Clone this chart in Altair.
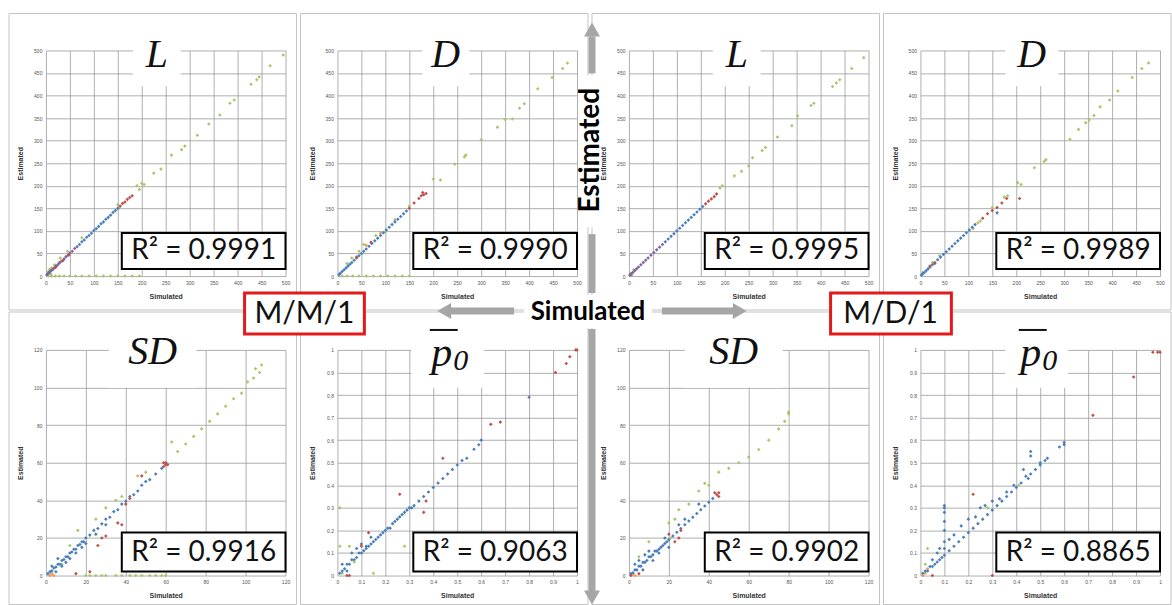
import altair as alt
import pandas as pd

# ---------------- tick values ----------------
TICKS_500 = [0, 50, 100, 150, 200, 250, 300, 350, 400, 450, 500]
TICKS_120 = [0, 20, 40, 60, 80, 100, 120]
TICKS_1 = [0, 0.1, 0.2, 0.3, 0.4, 0.5, 0.6, 0.7, 0.8, 0.9, 1]

PANEL_TITLES = ["L", "D", "L", "D", "SD", "p", "SD", "p"]
R2_TEXT = ["R² = 0.9991", "R² = 0.9990", "R² = 0.9995", "R² = 0.9989",
           "R² = 0.9916", "R² = 0.9063", "R² = 0.9902", "R² = 0.8865"]

# ---------------- panel 1 : L, M/M/1 ----------------
P1_green = [(5, 0), (12, 0), (20, 0), (28, 0), (38, 0), (50, 0), (62, 0), (75, 0), (90, 0), (105, 0),
            (120, 0), (135, 0), (150, 0), (165, 0), (180, 0), (195, 0),
            (5, 10), (8, 15), (12, 18), (18, 25), (10, 4), (30, 40), (45, 55), (75, 85),
            (150, 158), (152, 150), (190, 200), (195, 192), (200, 205), (205, 203), (225, 228), (240, 237),
            (262, 268), (283, 280), (290, 288), (316, 312), (340, 337), (363, 357), (384, 383), (393, 390),
            (428, 425), (440, 435), (445, 441), (468, 466), (495, 490)]
P1_purple = [(2, 3), (4, 5), (6, 7), (8, 9), (10, 11), (12, 13), (15, 15), (18, 19), (21, 22), (24, 24),
             (27, 28), (30, 31), (34, 34), (38, 38), (42, 43), (46, 46), (50, 51), (55, 55), (60, 61), (65, 65)]
P1_blue = [(70, 70), (75, 76), (80, 80), (85, 86), (90, 90), (95, 95), (100, 101), (105, 105), (110, 110),
           (115, 116), (120, 120), (125, 126), (130, 130), (135, 135), (140, 141), (145, 145), (150, 150)]
P1_red = [(20, 19), (35, 34), (48, 47), (155, 155), (160, 161), (165, 164), (170, 170), (175, 174), (180, 178)]

# ---------------- panel 2 : D, M/M/1 ----------------
P2_green = [(10, 0), (20, 0), (32, 0), (45, 0), (60, 0), (75, 0), (90, 0), (105, 0), (120, 0), (135, 0), (150, 0),
            (20, 28), (30, 40), (45, 55), (55, 70), (80, 90), (100, 98), (120, 125), (150, 155),
            (200, 215), (215, 213), (245, 248), (265, 264), (268, 268), (300, 302), (334, 330), (350, 347),
            (365, 348), (380, 372), (390, 382), (418, 415), (448, 440), (470, 460), (480, 472)]
P2_blue = [(3, 3), (6, 6), (10, 10), (14, 14), (18, 18), (22, 22), (26, 26), (30, 30), (35, 35), (40, 40),
           (45, 45), (50, 50), (55, 55), (60, 60), (66, 66), (72, 72), (78, 78), (84, 84), (90, 90), (96, 96),
           (102, 102), (108, 108), (114, 114), (120, 120), (126, 126), (132, 132), (138, 138), (144, 144)]
P2_red = [(40, 42), (70, 75), (150, 150), (160, 162), (170, 172), (175, 178), (180, 180), (185, 183), (178, 185)]
P2_orange = [(60, 68), (90, 95)]

# ---------------- panel 3 : L, M/D/1 ----------------
P3_green = [(3, 6), (6, 2), (10, 14), (190, 195), (195, 200), (220, 222), (235, 232), (250, 244), (258, 262),
            (278, 278), (285, 285), (310, 308), (340, 333), (352, 355), (380, 378), (386, 383), (425, 420),
            (433, 428), (440, 435), (465, 460), (490, 484)]
P3_purple = [(2, 2), (5, 5), (8, 8), (12, 12), (16, 16), (20, 20), (25, 25), (30, 30), (35, 35), (40, 40),
             (46, 46), (52, 52), (58, 58), (64, 64), (70, 70)]
P3_blue = [(76, 76), (82, 82), (88, 88), (94, 94), (100, 100), (106, 106), (112, 112), (118, 118), (124, 124),
           (130, 130), (136, 136), (142, 142), (148, 148), (154, 154)]
P3_red = [(160, 160), (166, 166), (172, 171), (178, 176), (183, 182)]

# ---------------- panel 4 : D, M/D/1 ----------------
P4_green = [(5, 8), (25, 30), (40, 45), (110, 105), (120, 118), (125, 122), (150, 152), (175, 175), (182, 178),
            (203, 207), (210, 203), (238, 240), (258, 254), (262, 258), (312, 303), (330, 325), (345, 340),
            (352, 346), (362, 356), (375, 375), (395, 390), (412, 410), (442, 440), (462, 460), (476, 472)]
P4_blue = [(2, 2), (5, 5), (8, 8), (12, 12), (16, 16), (20, 20), (25, 25), (30, 30), (36, 36), (42, 42),
           (48, 48), (54, 54), (60, 60), (66, 66), (72, 72), (78, 78), (84, 84), (90, 90), (96, 96), (102, 102),
           (108, 108), (114, 114), (160, 140)]
P4_red = [(20, 22), (30, 28), (130, 128), (140, 138), (150, 145), (160, 152), (170, 162), (180, 172), (207, 172)]

# ---------------- panel 5 : SD, M/M/1 ----------------
P5_green = [(20, 0), (22, 0), (25, 0), (28, 0), (30, 0), (35, 0), (38, 0), (42, 0), (45, 0), (48, 0), (52, 0),
            (55, 0), (58, 0), (60, 0),
            (8, 6), (12, 16), (16, 24), (25, 30), (30, 36), (35, 40), (38, 42), (46, 53), (50, 55), (63, 71),
            (66, 66), (70, 70), (74, 74), (78, 78), (82, 82), (86, 86), (90, 90), (94, 94), (98, 97), (101, 103),
            (104, 105), (105, 110), (107, 108), (108, 112)]
P5_orange = [(2, 0), (4, 0), (3, 1)]
P5_blue = [(1, 1), (2, 2), (3, 2.5), (4, 4), (5, 4.5), (6, 6), (7, 6), (8, 8), (9, 8.5), (10, 10), (11, 10),
           (12, 12), (13, 12.5), (14, 14), (15, 14), (16, 16), (17, 16.5), (18, 18), (19, 18), (20, 20),
           (22, 21.5), (24, 24), (26, 25), (28, 27.5), (30, 30), (32, 31), (34, 34), (36, 35), (38, 38),
           (40, 39.5), (42, 42), (44, 43), (46, 45), (48, 48), (50, 50), (52, 51), (55, 54), (58, 57),
           (5, 2), (8, 5), (10, 7), (12, 9), (15, 12), (3, 5), (6, 9), (18, 15), (20, 17), (25, 22), (30, 27)]
P5_red = [(59, 58), (60, 59), (60, 60), (61, 59), (59, 60), (36, 28), (38, 27), (40, 38), (42, 41), (26, 16),
          (28, 20), (30, 21), (48, 53), (15, 1), (22, 2)]

# ---------------- panel 6 : p0, M/M/1 ----------------
P6_green = [(0.01, 0.3), (0.01, 0.13), (0.05, 0.13), (0.07, 0.06), (0.02, 0.01), (0.28, 0.13), (0.15, 0.01)]
P6_blue = [(0.01, 0.01), (0.02, 0.02), (0.03, 0.03), (0.04, 0.05), (0.05, 0.05), (0.06, 0.07), (0.07, 0.07),
           (0.08, 0.08), (0.09, 0.1), (0.1, 0.1), (0.11, 0.11), (0.12, 0.12), (0.13, 0.13), (0.14, 0.14),
           (0.15, 0.15), (0.16, 0.16), (0.17, 0.17), (0.18, 0.18), (0.19, 0.19), (0.2, 0.2), (0.21, 0.21),
           (0.22, 0.21), (0.23, 0.23), (0.24, 0.24), (0.25, 0.25), (0.26, 0.26), (0.27, 0.27), (0.28, 0.28),
           (0.29, 0.29), (0.3, 0.3), (0.31, 0.3), (0.32, 0.31), (0.34, 0.33), (0.36, 0.35), (0.38, 0.37),
           (0.4, 0.39), (0.42, 0.41), (0.44, 0.43), (0.46, 0.45), (0.48, 0.47), (0.5, 0.49), (0.52, 0.51),
           (0.54, 0.52), (0.57, 0.56), (0.59, 0.58), (0.6, 0.6),
           (0.06, 0.1), (0.08, 0.12), (0.1, 0.14), (0.12, 0.13), (0.14, 0.17), (0.02, 0.05), (0.04, 0.02)]
P6_red = [(0.1, 0.13), (0.13, 0.19), (0.26, 0.36), (0.37, 0.33), (0.36, 0.28), (0.44, 0.52), (0.64, 0.67),
          (0.68, 0.68), (0.91, 0.9), (0.955, 0.94), (0.97, 0.97), (0.995, 1), (1, 1), (0.04, 0), (0.05, 0)]
P6_purple = [(0.8, 0.79)]

# ---------------- panel 7 : SD, M/D/1 ----------------
P7_green = [(10, 18), (5, 10), (20, 28), (23, 30), (25, 35), (30, 38), (35, 45), (38, 49), (40, 48), (45, 55),
            (50, 57), (55, 60), (60, 63), (65, 67), (70, 72), (75, 78), (78, 82), (80, 86), (80, 87), (21, 20)]
P7_orange = [(3, 0), (2, 1)]
P7_blue = [(1, 1), (2, 1.5), (3, 3), (4, 3), (5, 5), (6, 5), (7, 7), (8, 7), (9, 8), (10, 10), (11, 10),
           (12, 11), (13, 13), (14, 13), (15, 14), (16, 15), (17, 16), (18, 17), (19, 18), (20, 19), (22, 21),
           (24, 23), (26, 25), (28, 27), (30, 29), (32, 31), (34, 33), (36, 35), (38, 37), (40, 39), (42, 41),
           (5, 8), (7, 3), (10, 13), (12, 8), (15, 12), (18, 20), (20, 15), (25, 27), (28, 30), (35, 38),
           (3, 6), (8, 11)]
P7_red = [(44, 43), (45, 44), (45, 42), (43, 44), (20, 22), (23, 18), (25, 20), (26, 24), (5, 1), (1, 0)]

# ---------------- panel 8 : p0, M/D/1 ----------------
P8_green = [(0.03, 0.12), (0.02, 0.05), (0.28, 0.3), (0.41, 0.4)]
P8_orange = [(0.01, 0), (0.02, 0.01), (0.03, 0.03)]
P8_blue = [(0.01, 0.01), (0.02, 0.02), (0.03, 0.02), (0.04, 0.04), (0.05, 0.04), (0.06, 0.05), (0.07, 0.06),
           (0.08, 0.07), (0.09, 0.08), (0.1, 0.09), (0.12, 0.11), (0.14, 0.13), (0.16, 0.15), (0.18, 0.17),
           (0.2, 0.19), (0.22, 0.21), (0.24, 0.23), (0.26, 0.25), (0.28, 0.27), (0.3, 0.29), (0.32, 0.31),
           (0.34, 0.33), (0.36, 0.35), (0.38, 0.37), (0.4, 0.39), (0.42, 0.41), (0.44, 0.44), (0.46, 0.45),
           (0.48, 0.47), (0.5, 0.49), (0.52, 0.51), (0.53, 0.52), (0.58, 0.57), (0.6, 0.59), (0.6, 0.58),
           (0.1, 0.12), (0.1, 0.15), (0.1, 0.2), (0.1, 0.24), (0.1, 0.28), (0.1, 0.3), (0.1, 0.31),
           (0.05, 0.07), (0.07, 0.1), (0.08, 0.12), (0.12, 0.16), (0.14, 0.18), (0.17, 0.22), (0.2, 0.25),
           (0.23, 0.26), (0.25, 0.3), (0.27, 0.31), (0.3, 0.33), (0.33, 0.34), (0.36, 0.37), (0.39, 0.4),
           (0.43, 0.47), (0.45, 0.43), (0.46, 0.53), (0.46, 0.55), (0.5, 0.5)]
P8_red = [(0.22, 0.36), (0.72, 0.71), (0.89, 0.88), (0.97, 0.99), (1, 0.99), (0.99, 0.99), (0.05, 0), (0.3, 0)]

SERIES_COLORS = {"green": "#a9c66b", "orange": "#f39a4c", "purple": "#7f62a3",
                 "blue": "#4a7ebb", "red": "#c0504d"}

PANELS = [
    dict(series=[("green", P1_green), ("purple", P1_purple), ("blue", P1_blue), ("red", P1_red)], ticks=TICKS_500),
    dict(series=[("green", P2_green), ("orange", P2_orange), ("blue", P2_blue), ("red", P2_red)], ticks=TICKS_500),
    dict(series=[("green", P3_green), ("purple", P3_purple), ("blue", P3_blue), ("red", P3_red)], ticks=TICKS_500),
    dict(series=[("green", P4_green), ("blue", P4_blue), ("red", P4_red)], ticks=TICKS_500),
    dict(series=[("green", P5_green), ("orange", P5_orange), ("blue", P5_blue), ("red", P5_red)], ticks=TICKS_120),
    dict(series=[("green", P6_green), ("purple", P6_purple), ("blue", P6_blue), ("red", P6_red)], ticks=TICKS_1),
    dict(series=[("green", P7_green), ("orange", P7_orange), ("blue", P7_blue), ("red", P7_red)], ticks=TICKS_120),
    dict(series=[("green", P8_green), ("orange", P8_orange), ("blue", P8_blue), ("red", P8_red)], ticks=TICKS_1),
]

# ---------------- layout constants ----------------
W, H = 240, 226
ONE = pd.DataFrame({"k": [0]})
GRAY = "#a6a6a6"
FRAME = "#c4c4c4"


def rect(x0, x1, y0, y1, fill="white", fill_opacity=1.0, stroke="white", sw=0.0):
    return alt.Chart(ONE).mark_rect(fill=fill, fillOpacity=fill_opacity, stroke=stroke, strokeWidth=sw).encode(
        x=alt.value(x0), x2=alt.value(x1), y=alt.value(y0), y2=alt.value(y1))


def text(x, y, s, **kw):
    return alt.Chart(ONE).mark_text(text=s, **kw).encode(x=alt.value(x), y=alt.value(y))


def hrule(x0, x1, y, color, sw):
    return alt.Chart(ONE).mark_rule(color=color, strokeWidth=sw, strokeCap="butt").encode(
        x=alt.value(x0), x2=alt.value(x1), y=alt.value(y))


def vrule(x, y0, y1, color, sw):
    return alt.Chart(ONE).mark_rule(color=color, strokeWidth=sw, strokeCap="butt").encode(
        x=alt.value(x), y=alt.value(y0), y2=alt.value(y1))


def tri(x, y, shape, size=256):
    return alt.Chart(ONE).mark_point(shape=shape, filled=True, size=size, color=GRAY, opacity=1).encode(
        x=alt.value(x), y=alt.value(y))


# title box settings per panel (relative to plot origin)
TITLE_BOX = [(87, 135), (85, 132), (84, 132), (85, 138), (63, 151), (74, 147), (56, 154), (85, 148)]
LABEL_EXPR = "datum.value + ''"


def make_panel(i):
    spec = PANELS[i]
    rows = []
    for name, pts in spec["series"]:
        for x, y in pts:
            rows.append({"Simulated": x, "Estimated": y, "series": name})
    df = pd.DataFrame(rows)
    ticks = spec["ticks"]
    dom = [ticks[0], ticks[-1]]
    top = i < 4

    xaxis = alt.Axis(values=ticks, labelExpr=LABEL_EXPR, title="Simulated", titleX=W / 2, titleY=20,
                     titleAlign="center", titleBaseline="middle")
    yaxis = alt.Axis(values=ticks, labelExpr=LABEL_EXPR, title="Estimated", titleX=-25, titleY=H / 2,
                     titleAngle=270, titleAlign="center", titleBaseline="middle")

    pts = alt.Chart(df).mark_point(filled=True, shape="diamond", size=13, opacity=1).encode(
        x=alt.X("Simulated:Q", scale=alt.Scale(domain=dom, nice=False, zero=False), axis=xaxis),
        y=alt.Y("Estimated:Q", scale=alt.Scale(domain=dom, nice=False, zero=False), axis=yaxis),
        color=alt.Color("series:N", scale=alt.Scale(domain=list(SERIES_COLORS),
                                                    range=list(SERIES_COLORS.values())), legend=None),
    )

    fy0, fy1 = (-37, 260) if top else (-38, 255)
    layers = [rect(-37, 251, fy0, fy1, fill="white", fill_opacity=0, stroke=FRAME, sw=1), pts]

    bx0, bx1 = TITLE_BOX[i]
    cx = (bx0 + bx1) / 2
    layers.append(rect(bx0, bx1, -16, 36 if top else 38))
    t = PANEL_TITLES[i]
    if t == "p":
        layers.append(text(cx - 6, 16, "p", font="Liberation Serif", fontStyle="italic", fontSize=42,
                           align="center", baseline="alphabetic", color="#111"))
        layers.append(text(cx + 13, 20, "0", font="Liberation Serif", fontStyle="italic", fontSize=30,
                           align="center", baseline="alphabetic", color="#111"))
        layers.append(hrule(cx - 18, cx + 10, -20, "#111", 2))
    else:
        layers.append(text(cx, 17 if top else 14, t, font="Liberation Serif", fontStyle="italic", fontSize=40,
                           align="center", baseline="alphabetic", color="#111"))

    # R^2 box
    layers.append(rect(76, 240, 183, 219 if top else 222, fill="white", stroke="black", sw=2))
    layers.append(text(158, 201 if top else 203, R2_TEXT[i], font="Lato", fontSize=28, align="center",
                       baseline="middle", color="#111"))

    if i == 7:
        # overlay decorations, positioned relative to this panel's plot origin
        ox, oy = 921, 349

        def X(v):
            return v - ox

        def Y(v):
            return v - oy
        layers += [
            tri(X(592), Y(28), "triangle-up"),
            vrule(X(592), Y(35), Y(72), GRAY, 7),
            rect(X(580), X(600), Y(74), Y(226)),
            text(X(591), Y(149), "Estimated", font="Lato", fontWeight="bold", fontSize=28, angle=270,
                 align="center", baseline="middle", color="black"),
            vrule(X(592), Y(233), Y(292), GRAY, 7),
            vrule(X(592), Y(328), Y(591), GRAY, 7),
            tri(X(592), Y(597), "triangle-down"),
            rect(X(524), X(652), Y(294), Y(327)),
            text(X(588), Y(311), "Simulated", font="Lato", fontWeight="bold", fontSize=26,
                 align="center", baseline="middle", color="black"),
            hrule(X(450), X(514), Y(310), GRAY, 7),
            tri(X(444), Y(310), "triangle-left"),
            hrule(X(662), X(734), Y(310), GRAY, 7),
            tri(X(740), Y(310), "triangle-right"),
            rect(X(244), X(364), Y(292), Y(333), fill="white", stroke="#e31a1c", sw=3),
            text(X(304), Y(313), "M/M/1", font="Lato", fontSize=30, align="center", baseline="middle",
                 color="#111"),
            rect(X(831), X(952), Y(292), Y(333), fill="white", stroke="#e31a1c", sw=3),
            text(X(891), Y(313), "M/D/1", font="Lato", fontSize=30, align="center", baseline="middle",
                 color="#111"),
        ]
    return alt.layer(*layers).properties(width=W, height=H)


panels = [make_panel(i) for i in range(8)]

chart = alt.concat(*panels, columns=4, spacing={"row": 74, "column": 52}, bounds="flush").properties(
    padding={"left": 8, "top": 12, "right": 0, "bottom": 0},
    background="white",
).configure_view(stroke=None).configure_axis(
    labelFontSize=5, labelColor="#555", labelFont="Liberation Sans", labelPadding=4,
    labelFlush=False, labelOverlap=False,
    ticks=False, domain=False, grid=True, gridColor="#9a9a9a", gridWidth=0.8,
    titleFontSize=7, titleFontWeight="bold", titleColor="#333", titleFont="Liberation Sans",
)

chart.save("out.html", embed_options={"renderer": "svg", "actions": False})
